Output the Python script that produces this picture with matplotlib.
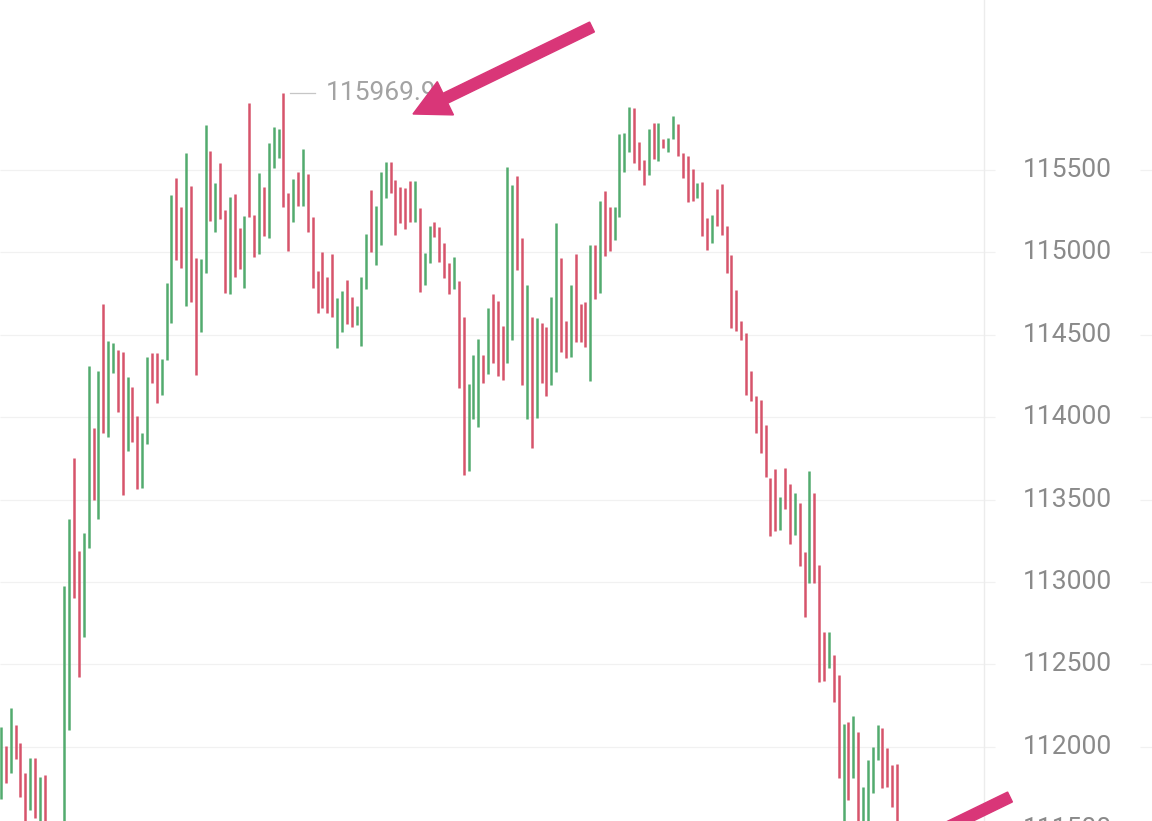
import matplotlib
matplotlib.use("Agg")
import matplotlib.pyplot as plt
import matplotlib.patches as mpatches
import numpy as np

# ---- data ----
highs = [
    112120, 112005, 112235, 112132, 112023, 111841, 111932, 111932, 111817, 111829,
    111530, 111450, 111500, 112976, 113382, 113752, 113188, 113297, 114311, 113934,
    114280, 114687, 114462, 114450, 114408, 114396, 114244, 114183, 114007, 113904,
    114365, 114390, 114390, 114353, 114814, 115348, 115451, 115275, 115603, 115403,
    114966, 114960, 115773, 115615, 115421, 115542, 115257, 115336, 115354, 115148,
    115221, 115907, 115227, 115482, 115397, 115664, 115761, 115749, 115969.9, 115360,
    115445, 115488, 115627, 115476, 115215, 114887, 115002, 114851, 114990, 114723,
    114766, 114832, 114729, 114675, 114851, 115112, 115379, 115282, 115488, 115548,
    115548, 115439, 115397, 115391, 115433, 115433, 115269, 114996, 115160, 115184,
    115154, 115057, 114936, 114972, 114826, 114608, 114201, 114377, 114474, 114377,
    114663, 114748, 114705, 114553, 115518, 115409, 115464, 115087, 114802, 114608,
    114602, 114572, 114547, 114729, 115178, 114966, 114584, 114802, 114990, 114687,
    114699, 115045, 115045, 115312, 115373, 115275, 115275, 115718, 115724, 115882,
    115876, 115670, 115561, 115749, 115785, 115785, 115688, 115694, 115828, 115779,
    115603, 115585, 115506, 115421, 115427, 115209, 115227, 115385, 115415, 115160,
    114984, 114772, 114584, 114511, 114280, 114129, 114104, 113953, 113631, 113686,
    113516, 113692, 113595, 113540, 113479, 113182, 113674, 113540, 113103, 112697,
    112697, 112557, 112436, 112138, 112150, 112187, 112090, 111756, 111920, 111999,
    112132, 112114, 111993, 111890, 111896,
]
lows = [
    111683, 111780, 111841, 111926, 111695, 111450, 111616, 111568, 111420, 111400,
    111300, 111200, 111250, 111300, 112102, 112903, 112424, 112666, 113206, 113498,
    113382, 113904, 113880, 114268, 114031, 113528, 113795, 113850, 113564, 113570,
    113837, 114208, 114086, 114135, 114347, 114572, 114954, 114905, 114675, 114699,
    114256, 114517, 114875, 115190, 115124, 115203, 114754, 114748, 114851, 114899,
    114784, 115215, 114972, 114990, 115100, 115087, 115512, 115573, 115275, 115008,
    115184, 115282, 115282, 115124, 114784, 114632, 114663, 114632, 114608, 114420,
    114517, 114565, 114547, 114559, 114432, 114778, 115002, 114923, 115045, 115330,
    115360, 115106, 115178, 115142, 115184, 115184, 114760, 114802, 114936, 115093,
    114942, 114845, 114748, 114778, 114177, 113649, 113674, 113989, 113940, 114208,
    114262, 114329, 114250, 114226, 114329, 114468, 114893, 114195, 113989, 113813,
    113995, 114208, 114129, 114195, 114274, 114396, 114359, 114365, 114456, 114456,
    114426, 114220, 114717, 114754, 114978, 115008, 115075, 115215, 115488, 115609,
    115542, 115500, 115409, 115470, 115567, 115555, 115633, 115609, 115688, 115585,
    115451, 115306, 115312, 115330, 115100, 115015, 115057, 115160, 115106, 114875,
    114541, 114523, 114468, 114135, 114098, 113904, 113783, 113637, 113279, 113309,
    113315, 113443, 113231, 113285, 113097, 112788, 112994, 112994, 112393, 112399,
    112478, 112272, 111811, 111450, 111677, 111811, 111400, 111450, 111500, 111720,
    111920, 111750, 111756, 111635, 111480,
]
directions = list(
    "GRGRRRGRGR" "RRGGGRRGGR" "GRGGRRGRRG" "GRRGGGRRGR" "RGGRGRRGRR"
    "GRRGRGGGRR" "GRGRRRRRRG" "GRRGGGRGGG" "RRRRRGRGGR" "RRRGRRGGGR"
    "GRRRGGRRGR" "GRRGGRRGRR" "RGRGRRGGGG" "RRRGRGRGGR" "RRRGRRGRRR"
    "RRRRRRRRRR" "GRRGRRGRRR" "GRRGRGRGGG" "GRRRR"
)
tick_values = [111500, 112000, 112500, 113000, 113500, 114000, 114500, 115000, 115500]

# ---- figure ----
W, H = 1152, 821
fig = plt.figure(figsize=(W / 100, H / 100), dpi=100)
fig.patch.set_facecolor("white")
ax = fig.add_axes([0, 0, 1, 1])
ax.set_axis_off()

step_px = 4.87
x0 = -0.205
ax.set_xlim(x0, x0 + W / step_px)
ax.set_ylim(111549.7, 116531.6)

up_color = "#52AB6E"
down_color = "#D6546B"
xs = np.arange(len(highs))
cols = [up_color if d == "G" else down_color for d in directions]

# grid lines (interrupted under the price labels)
ytr = ax.get_yaxis_transform()
ax.hlines(tick_values, 0, 995 / W, transform=ytr, colors="#f1f1f1", linewidth=0.9, zorder=0)
ax.hlines(tick_values, 1140 / W, 1, transform=ytr, colors="#f1f1f1", linewidth=0.9, zorder=0)
# separator line
ax.plot([984 / W, 984 / W], [0, 1], transform=ax.transAxes, color="#ececec", linewidth=1.0, zorder=0)

ax.vlines(xs, lows, highs, colors=cols, linewidth=1.8, capstyle="butt", zorder=2)

for v in tick_values:
    ax.text(1067 / W, v, f"{v}", transform=ytr, ha="center", va="center",
            fontsize=19, color="#8a8a8a", family="Roboto", clip_on=False)

# max marker
imax = int(np.argmax(highs))
hmax = highs[imax]
ax.plot([imax + 1.35, imax + 6.45], [hmax, hmax], color="#c6c6c6", linewidth=0.9, zorder=3)
ax.text(imax + 8.7, hmax, f"{hmax:.1f}", ha="left", va="center", fontsize=19,
        color="#a3a3a3", family="Roboto", zorder=3)

# arrows (in inches, figure coordinates)
arrow_color = "#D93678"
def px(xp, yp):
    return xp / 100.0, (H - yp) / 100.0

tx, ty = px(592, 27)
hx, hy = px(413, 114)
a1 = mpatches.FancyArrow(tx, ty, hx - tx, hy - ty, width=0.11, head_width=0.37,
                         head_length=0.36, length_includes_head=True,
                         transform=fig.dpi_scale_trans, color=arrow_color, zorder=5)
fig.add_artist(a1)
ux, uy = (413 - 592), (114 - 27)
norm = (ux ** 2 + uy ** 2) ** 0.5
ux, uy = ux / norm, uy / norm
t2x, t2y = px(1010, 797)
e2x, e2y = px(1010 + 160 * ux, 797 + 160 * uy)
a2 = mpatches.FancyArrow(t2x, t2y, e2x - t2x, e2y - t2y, width=0.11, head_width=0.37,
                         head_length=0.36, length_includes_head=True,
                         transform=fig.dpi_scale_trans, color=arrow_color, zorder=5)
fig.add_artist(a2)

fig.savefig("out.png", dpi=100, facecolor="white")
